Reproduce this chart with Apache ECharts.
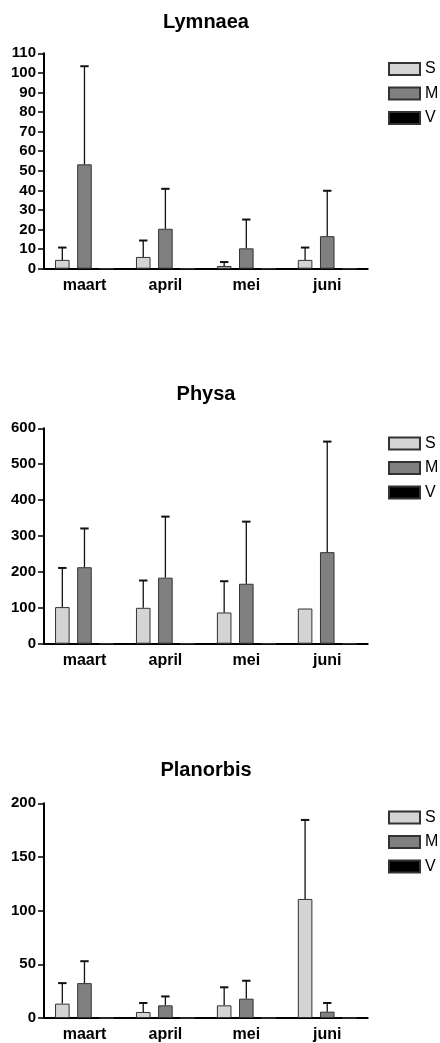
<!DOCTYPE html>
<html>
<head>
<meta charset="utf-8">
<script src="https://cdn.jsdelivr.net/npm/echarts@6/dist/echarts.min.js"></script>
<style>
html,body{margin:0;padding:0;background:#fff;}
#c{width:440px;height:1043px;}
</style>
</head>
<body>
<div id="c"></div>
<script>
const months = ['maart', 'april', 'mei', 'juni'];
const seriesNames = ['S', 'M', 'V'];
const chartTitles = ['Lymnaea', 'Physa', 'Planorbis'];

// Lymnaea
const lymS = [4.5, 6.0, 1.4, 4.5];
const lymSsd = [6.3, 8.4, 2.0, 6.3];
const lymM = [53.3, 20.4, 10.4, 16.6];
const lymMsd = [50.1, 20.4, 14.7, 23.2];
const lymV = [0, 0, 0, 0];
const lymTicks = {min: 0, max: 110, interval: 10};

// Physa
const phyS = [102, 100, 87, 98];
const phySsd = [109, 76, 87, 0];
const phyM = [213, 184, 167, 255];
const phyMsd = [108, 170, 173, 308];
const phyV = [0, 0, 0, 0];
const phyTicks = {min: 0, max: 600, interval: 100};

// Planorbis
const plaS = [13.4, 5.6, 11.8, 110.9];
const plaSsd = [19.1, 8.4, 16.8, 73.6];
const plaM = [32.5, 11.8, 18.0, 5.9];
const plaMsd = [20.4, 8.3, 16.7, 8.1];
const plaV = [0, 0, 0, 0];
const plaTicks = {min: 0, max: 200, interval: 50};

const panels = [
  {title: chartTitles[0], S: lymS, Ssd: lymSsd, M: lymM, Msd: lymMsd, V: lymV, ticks: lymTicks},
  {title: chartTitles[1], S: phyS, Ssd: phySsd, M: phyM, Msd: phyMsd, V: phyV, ticks: phyTicks},
  {title: chartTitles[2], S: plaS, Ssd: plaSsd, M: plaM, Msd: plaMsd, V: plaV, ticks: plaTicks}
];

const FONT = '"Liberation Sans", Arial, Helvetica, sans-serif';
const gridTops = [53.3, 428.3, 803.3];
const gridH = 215.4;
const titleTops = [12, 384.5, 760];
const legendTops = [61, 435.5, 809.5];
const BAR_W = 0.18, GAP = 0.52;
const colors = {S: '#d4d4d4', M: '#808080', V: '#000000'};

function errRender(offFrac) {
  return function (params, api) {
    const x = api.value(0), y = api.value(1), sd = api.value(2);
    if (!sd) return null;
    const b = api.coord([x, y]);
    const t = api.coord([x, y + sd]);
    const band = api.size([1, 0])[0];
    const cx = b[0] + offFrac * band;
    return {
      type: 'group',
      children: [
        {type: 'line', shape: {x1: cx, y1: b[1], x2: cx, y2: t[1]}, style: {stroke: '#111', lineWidth: 1.3}},
        {type: 'line', shape: {x1: cx - 4.2, y1: t[1], x2: cx + 4.2, y2: t[1]}, style: {stroke: '#111', lineWidth: 2}}
      ]
    };
  };
}

const option = {
  animation: false,
  backgroundColor: '#fff',
  title: [], legend: [], grid: [], xAxis: [], yAxis: [], series: []
};

panels.forEach((p, i) => {
  option.title.push({
    text: p.title, left: 206, top: titleTops[i], textAlign: 'center', padding: 0,
    textStyle: {fontFamily: FONT, fontSize: 20, fontWeight: 'bold', color: '#000', lineHeight: 20}
  });
  option.legend.push({
    data: seriesNames, orient: 'vertical', left: 388, top: legendTops[i], padding: 0,
    itemWidth: 31, itemHeight: 12, itemGap: 8.5, icon: 'rect', selectedMode: false,
    textStyle: {fontFamily: FONT, fontSize: 16, color: '#000', lineHeight: 16}
  });
  option.grid.push({left: 44, right: 72.3, top: gridTops[i], height: gridH, containLabel: false});
  option.xAxis.push({
    type: 'category', gridIndex: i, data: months,
    axisLine: {lineStyle: {color: '#000', width: 2}},
    axisTick: {alignWithLabel: true, length: 6, lineStyle: {color: '#000', width: 2}},
    axisLabel: {fontFamily: FONT, fontSize: 16, fontWeight: 'bold', color: '#000', margin: 9},
    splitLine: {show: false}
  });
  option.yAxis.push({
    type: 'value', gridIndex: i, min: p.ticks.min, max: p.ticks.max, interval: p.ticks.interval,
    axisLine: {show: true, lineStyle: {color: '#000', width: 2}},
    axisTick: {show: true, length: 6, lineStyle: {color: '#000', width: 1.5}},
    axisLabel: {fontFamily: FONT, fontSize: 15, fontWeight: 'bold', color: '#000', margin: 8},
    splitLine: {show: false}
  });
  seriesNames.forEach(n => {
    option.series.push({
      name: n, type: 'bar', xAxisIndex: i, yAxisIndex: i, data: p[n],
      barWidth: (BAR_W * 100) + '%', barGap: (GAP * 100) + '%',
      itemStyle: {color: colors[n], borderColor: '#333', borderWidth: 1}
    });
  });
  const offS = -(BAR_W + BAR_W * GAP);
  option.series.push({
    name: 'errS' + i, type: 'custom', xAxisIndex: i, yAxisIndex: i, z: 5,
    renderItem: errRender(offS),
    data: p.S.map((v, k) => [k, v, p.Ssd[k]])
  });
  option.series.push({
    name: 'errM' + i, type: 'custom', xAxisIndex: i, yAxisIndex: i, z: 5,
    renderItem: errRender(0),
    data: p.M.map((v, k) => [k, v, p.Msd[k]])
  });
});

const chart = echarts.init(document.getElementById('c'), null, {renderer: 'canvas'});
chart.setOption(option);
</script>
</body>
</html>
